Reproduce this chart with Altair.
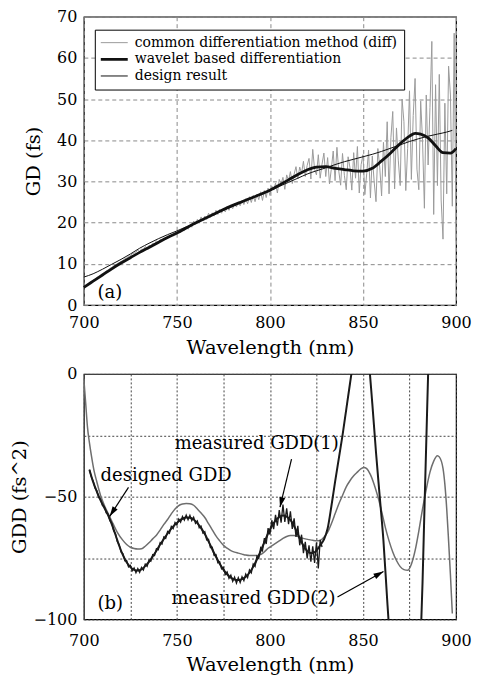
import math
import altair as alt
import pandas as pd

FONT = "DejaVu Serif"
W = 373
H_TOP = 289
H_BOT = 246

# ---------------- panel (a): group delay ----------------
series_names = ["common differentiation method (diff)",
                "wavelet based differentiation",
                "design result"]

gd_diff_nm = list(range(700, 901))
gd_diff = [
    4.4, 4.6, 5.0, 5.3, 5.7, 6.0, 6.3, 6.7, 7.0, 7.3,
    7.6, 7.9, 8.3, 8.5, 8.9, 9.1, 9.5, 9.7, 10.1, 10.3,
    10.6, 10.8, 11.3, 11.4, 11.9, 11.9, 12.5, 12.6, 12.9, 13.3,
    13.0, 13.6, 13.5, 14.2, 13.9, 14.5, 14.3, 15.0, 14.8, 15.6,
    15.2, 15.9, 15.6, 16.3, 15.9, 16.8, 16.4, 17.1, 16.8, 17.6,
    17.3, 18.1, 17.6, 18.5, 18.1, 18.9, 18.4, 19.4, 18.9, 20.4,
    19.6, 20.8, 20.0, 21.4, 20.5, 21.6, 20.8, 22.3, 21.3, 22.4,
    21.6, 23.0, 22.0, 23.2, 22.3, 23.5, 22.6, 23.9, 23.0, 24.3,
    23.4, 24.7, 23.8, 25.0, 24.1, 25.4, 24.4, 25.8, 24.6, 26.3,
    24.9, 26.6, 25.1, 26.9, 25.6, 27.5, 25.4, 27.8, 26.1, 28.4,
    26.6, 28.9, 27.9, 29.6, 27.2, 30.5, 29.4, 31.0, 28.1, 31.6,
    30.2, 32.4, 29.5, 31.8, 33.6, 30.6, 33.5, 32.0, 34.9, 31.2,
    33.9, 35.6, 30.6, 37.8, 32.9, 31.6, 36.5, 30.8, 34.2, 36.9,
    31.2, 35.8, 29.4, 33.1, 37.4, 30.2, 38.3, 32.5, 29.1, 36.8,
    31.5, 28.0, 36.0, 33.4, 27.9, 37.0, 30.8, 38.5, 27.2, 34.1,
    36.5, 26.8, 31.9, 37.6, 26.0, 36.2, 30.0, 25.1, 38.0, 33.5,
    26.5, 39.5, 31.2, 44.5, 27.0, 40.6, 47.0, 28.2, 43.0, 35.0,
    29.0, 50.0, 44.5, 27.8, 38.0, 52.0, 30.5, 46.0, 55.0, 33.0,
    28.0, 49.5, 40.0, 23.5, 51.0, 34.0, 48.0, 64.0, 22.0, 53.5,
    29.0, 56.0, 25.5, 16.0, 49.0, 27.0, 58.0, 51.0, 24.0, 66.0,
    15.5,
]

gd_wavelet_nm = [700, 705, 710, 715, 720, 725, 730, 735, 740, 745, 750, 755,
                 760, 765, 770, 775, 780, 785, 790, 795, 800, 805, 810, 815,
                 820, 825, 830, 835, 840, 845, 850, 855, 860, 865, 870, 875,
                 878, 881, 885, 889, 893, 897, 900]
gd_wavelet = [4.3, 5.8, 7.3, 8.8, 10.2, 11.5, 12.8, 14.0, 15.2, 16.4, 17.5, 18.7,
              19.9, 21.0, 22.1, 23.2, 24.2, 25.1, 26.0, 26.9, 27.9, 29.1, 30.4, 31.7,
              32.8, 33.5, 33.6, 33.2, 32.9, 32.6, 32.5, 33.2, 35.0, 37.0, 39.2, 41.0,
              41.7, 41.5, 40.6, 38.7, 37.0, 36.9, 38.0]

gd_design_nm = [700, 705, 710, 715, 720, 725, 730, 735, 740, 745, 750, 755, 760,
                765, 770, 775, 780, 785, 790, 795, 800, 805, 810, 815, 820, 825,
                830, 835, 840, 845, 850, 855, 860, 865, 870, 875, 880, 885, 890,
                895, 898]
gd_design = [6.8, 7.6, 8.7, 9.9, 11.1, 12.4, 13.8, 15.0, 16.1, 17.1, 18.0, 19.0, 20.0,
             21.0, 22.0, 23.0, 24.0, 25.0, 26.0, 27.0, 27.8, 28.8, 29.8, 30.8, 31.8, 32.6,
             33.3, 34.1, 34.8, 35.4, 36.0, 36.6, 37.3, 38.1, 38.9, 39.7, 40.4, 41.0, 41.5,
             42.0, 42.4]

# ---------------- panel (b): group delay dispersion ----------------
gdd_design_nm = [700, 701, 702, 703, 704, 705.5, 707, 709, 711, 713.8, 716, 718,
                 721, 723, 725, 727, 729, 731, 733, 735, 737, 739, 741, 743,
                 745, 747, 749, 751.5, 753, 755, 757, 759, 761, 763, 765, 767,
                 769, 771, 773, 775, 777, 779, 781, 783, 785, 787, 789, 791,
                 793, 795, 797, 799, 801, 803, 805, 807, 809, 811, 813, 815,
                 817, 819, 821, 823, 825, 827, 829, 831, 833, 835, 837, 839,
                 841, 843, 845, 847, 849, 850.5, 852, 854, 856, 858, 860, 862,
                 864, 866, 868, 870, 872, 874, 876, 878, 880, 882, 884, 886,
                 888, 890, 891, 893, 894, 895, 896, 897, 898]
gdd_design = [-2, -12, -22, -28, -33, -39.5, -44, -49.5, -53.5, -58, -61.5, -64.5,
              -67.8, -69.5, -70.6, -71.1, -71.3, -71.2, -70.2, -68.8, -67.2, -65.7, -63.6, -61.3,
              -59.3, -57, -55, -53.4, -53, -52.8, -52.9, -53.5, -55, -56.7, -58.5, -61,
              -63.5, -66, -68, -69.8, -71, -72, -72.6, -73, -73.4, -73.8, -74, -74,
              -74, -73.6, -72.5, -71, -70, -69, -68, -67, -66.2, -65.8, -65.8, -66.2,
              -66.8, -67.2, -67.5, -67.8, -68, -67.8, -66.5, -64.5, -61, -57, -53, -49.5,
              -46, -43.5, -41.5, -40, -38.6, -38.1, -38.6, -41, -45, -50, -56, -62.5,
              -68, -72.5, -76, -78.5, -79.7, -80, -77.5, -72, -64, -55, -47, -40,
              -35.5, -33.3, -33.8, -38.5, -45, -55, -68, -82, -97.6]

gdd_meas1_nm = list(range(703, 829))
gdd_meas1 = [
    -39.0, -41.9, -43.6, -46.5, -47.6, -50.3, -51.1, -53.6, -54.0, -56.6,
    -57.1, -59.8, -60.7, -63.9, -65.0, -68.4, -69.5, -72.6, -73.2, -76.1,
    -76.0, -78.6, -78.0, -80.2, -79.0, -81.0, -79.3, -80.8, -78.8, -79.9,
    -77.5, -78.4, -75.8, -76.3, -73.6, -74.0, -71.2, -71.6, -68.7, -69.3,
    -66.4, -67.0, -64.2, -64.9, -62.1, -63.0, -60.5, -61.6, -59.1, -60.4,
    -58.1, -59.6, -57.5, -59.4, -57.6, -59.8, -58.4, -60.9, -59.9, -62.7,
    -62.0, -64.9, -64.3, -67.6, -67.4, -70.7, -70.6, -73.9, -73.6, -76.9,
    -76.5, -79.4, -78.8, -81.7, -80.7, -83.3, -82.0, -84.5, -82.8, -85.2,
    -83.0, -85.0, -82.6, -84.2, -81.5, -83.0, -79.8, -81.0, -77.4, -78.4,
    -74.3, -75.2, -70.8, -72.0, -66.9, -69.3, -62.8, -65.4, -59.6, -63.2,
    -57.4, -61.8, -55.5, -60.6, -53.2, -60.3, -54.8, -61.2, -56.0, -63.1,
    -58.8, -66.4, -61.9, -69.8, -65.5, -73.0, -68.4, -75.2, -69.8, -76.5,
    -70.2, -77.0, -68.7, -79.2, -67.6, -70.5,
]

gdd_meas2_nm = [703, 705, 707, 709, 711, 713, 715, 717, 719, 721, 723, 725,
                727, 729, 731, 733, 735, 737, 739, 741, 743, 745, 747, 749,
                751, 753, 755, 757, 759, 761, 763, 765, 767, 769, 771, 773,
                775, 777, 779, 781, 783, 785, 787, 789, 791, 793, 795, 797,
                799, 801, 803, 805, 807, 809, 811, 813, 815, 817, 819, 821,
                823, 825, 827, 829, 831, 833, 835, 837, 839, 841, 843, 845,
                847, 849, 851, 853, 855, 857, 859, 861, 863, 865, 868, 871,
                874, 877, 879, 880, 881, 882, 883, 884, 885, 886, 887]
gdd_meas2 = [-39, -44, -48, -51.5, -54.5, -57.5, -61.2, -65.5, -70, -73.8, -76.7, -78.7,
             -79.8, -80.1, -79.6, -78.3, -76.6, -74.4, -72, -69.5, -67.2, -65, -63, -61.4,
             -60, -59, -58.5, -58.6, -59.3, -60.8, -62.8, -65.2, -68.2, -71.4, -74.5, -77.3,
             -79.7, -81.6, -83, -83.8, -84, -83.6, -82.6, -81, -78.6, -75.6, -72.2, -68.6,
             -65, -62, -59.8, -58.3, -57.7, -58.1, -59.5, -62, -65.3, -68.6, -71.2, -72.8,
             -73, -72, -69.8, -67.5, -63, -54, -44, -34.5, -25, -14.5, -4, 6,
             14, 19, 17, 6, -12, -32, -50, -68, -92, -115, -145, -165,
             -175, -165, -145, -128, -108, -85, -56, -28, 0, 25, 45]

# annotations (data coordinates)
a_label = ["(a)"]
a_nm = [707.3]
a_val = [2.9]

b_labels = ["(b)", "designed GDD", "measured GDD(1)", "measured GDD(2)"]
b_nm = [707.3, 709.0, 748.8, 747.1]
b_val = [-93.6, -41.5, -28.6, -91.6]

arrow_from_nm = [724.0, 811.6, 836.3]
arrow_from_val = [-46.2, -34.7, -90.9]
arrow_to_nm = [713.9, 805.4, 861.0]
arrow_to_val = [-58.0, -54.3, -80.5]

# ---------------- build tables ----------------
df_diff = pd.DataFrame({"nm": gd_diff_nm, "gd": gd_diff, "series": series_names[0]})
df_wav = pd.DataFrame({"nm": gd_wavelet_nm, "gd": gd_wavelet, "series": series_names[1]})
df_des = pd.DataFrame({"nm": gd_design_nm, "gd": gd_design, "series": series_names[2]})
df_a = pd.DataFrame({"nm": a_nm, "gd": a_val, "label": a_label})

px_per_nm = W / 200.0
px_per_unit = H_BOT / 100.0
angles = []
for x1, y1, x2, y2 in zip(arrow_from_nm, arrow_from_val, arrow_to_nm, arrow_to_val):
    dx = (x2 - x1) * px_per_nm
    dy = -(y2 - y1) * px_per_unit
    angles.append(math.degrees(math.atan2(dx, -dy)) % 360)

df_gdd_des = pd.DataFrame({"nm": gdd_design_nm, "gdd": gdd_design})
df_gdd_m1 = pd.DataFrame({"nm": gdd_meas1_nm, "gdd": gdd_meas1})
df_gdd_m2 = pd.DataFrame({"nm": gdd_meas2_nm, "gdd": gdd_meas2})
df_b = pd.DataFrame({"nm": b_nm, "gdd": b_val, "label": b_labels})
df_arrows = pd.DataFrame({"nm": arrow_from_nm, "gdd": arrow_from_val,
                          "nm2": arrow_to_nm, "gdd2": arrow_to_val,
                          "angle": angles})

# ---------------- panel (a) ----------------
x_top = alt.X("nm:Q", scale=alt.Scale(domain=[700, 900], nice=False),
              axis=alt.Axis(values=[700, 750, 800, 850, 900], title="Wavelength (nm)",
                            gridDash=[4, 3], gridColor="#8a8a8a",
                            labelPadding=9, titlePadding=9))
y_top = alt.Y("gd:Q", scale=alt.Scale(domain=[0, 70], nice=False),
              axis=alt.Axis(values=[0, 10, 20, 30, 40, 50, 60, 70], title="GD (fs)",
                            gridDash=[4, 3], gridColor="#8a8a8a", titlePadding=13))

legend = alt.Legend(
    title=None, orient="none", legendX=11, legendY=13, padding=6,
    strokeColor="black", fillColor="white", cornerRadius=0,
    labelFont=FONT, labelFontSize=14, labelColor="black", labelLimit=400,
    symbolType="M-2,0L2,0", symbolSize=196, symbolOffset=6, labelOffset=14,
    symbolStrokeWidth=alt.ExprRef(expr="datum.value === 'wavelet based differentiation' ? 2.8 : 1"),
    clipHeight=14, rowPadding=2.7,
)
color = alt.Color("series:N",
                  scale=alt.Scale(domain=series_names, range=["#9b9b9b", "#111111", "#111111"]),
                  legend=legend)

l_diff = alt.Chart(df_diff).mark_line(strokeWidth=1).encode(x=x_top, y=y_top, color=color)
l_wav = alt.Chart(df_wav).mark_line(strokeWidth=2.8, interpolate="monotone").encode(x=x_top, y=y_top, color=color)
l_des = alt.Chart(df_des).mark_line(strokeWidth=1, interpolate="monotone").encode(x=x_top, y=y_top, color=color)
t_a = alt.Chart(df_a).mark_text(font=FONT, fontSize=18, align="left", baseline="middle",
                                color="black").encode(x=x_top, y=y_top, text="label:N")

top = alt.layer(l_diff, l_wav, l_des, t_a).properties(width=W, height=H_TOP)

# ---------------- panel (b) ----------------
hide_odd = "datum.value % 50 === 0 ? datum.label : ''"
x_bot = alt.X("nm:Q", scale=alt.Scale(domain=[700, 900], nice=False),
              axis=alt.Axis(values=list(range(700, 901, 25)), labelExpr=hide_odd,
                            title="Wavelength (nm)", gridDash=[2, 2], gridColor="#444444",
                            labelPadding=13, titlePadding=7))
y_bot = alt.Y("gdd:Q", scale=alt.Scale(domain=[-100, 0], nice=False),
              axis=alt.Axis(values=list(range(-100, 1, 25)), labelExpr=hide_odd,
                            title="GDD (fs^2)", gridDash=[2, 2], gridColor="#444444",
                            titlePadding=4))

g_des = alt.Chart(df_gdd_des).mark_line(color="#6e6e6e", strokeWidth=1.5, clip=True,
                                        interpolate="monotone").encode(x=x_bot, y=y_bot)
g_m1 = alt.Chart(df_gdd_m1).mark_line(color="#1a1a1a", strokeWidth=1.3, clip=True).encode(x=x_bot, y=y_bot)
g_m2 = alt.Chart(df_gdd_m2).mark_line(color="#1a1a1a", strokeWidth=2, clip=True,
                                      interpolate="monotone").encode(x=x_bot, y=y_bot)
t_b = alt.Chart(df_b).mark_text(font=FONT, fontSize=18, align="left", baseline="middle",
                                color="black").encode(x=x_bot, y=y_bot, text="label:N")
arr_line = alt.Chart(df_arrows).mark_rule(color="black", strokeWidth=1.2).encode(
    x=x_bot, y=y_bot, x2="nm2:Q", y2="gdd2:Q")
arr_head = alt.Chart(df_arrows).mark_point(
    shape="M0,0 L-0.3,1 L0.3,1 Z", filled=True, fill="black", color="black",
    size=400, opacity=1, strokeWidth=0).encode(
    x=alt.X("nm2:Q", scale=alt.Scale(domain=[700, 900], nice=False)),
    y=alt.Y("gdd2:Q", scale=alt.Scale(domain=[-100, 0], nice=False)),
    angle=alt.Angle("angle:Q", scale=None))

bottom = alt.layer(g_des, g_m1, g_m2, arr_line, arr_head, t_b).properties(width=W, height=H_BOT)

chart = alt.vconcat(top, bottom, spacing=6).properties(
    padding={"left": 0, "top": -1, "right": 0, "bottom": 0}
).configure_view(stroke="black", strokeWidth=1.2).configure_axis(
    domain=False, ticks=False, tickSize=0, labelFont=FONT, labelFontSize=16,
    labelColor="black", titleFont=FONT, titleFontSize=19.5, titleFontWeight="normal",
    titleColor="black", labelPadding=7, labelFlush=False, grid=True, gridWidth=1,
)

chart.save("out.html", embed_options={"renderer": "svg", "actions": False})
